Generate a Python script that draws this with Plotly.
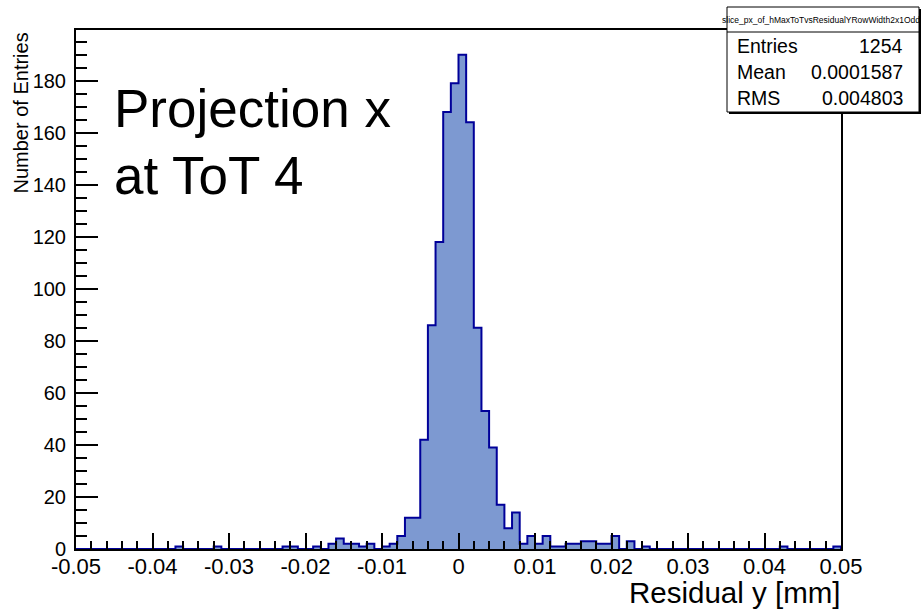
import numpy as np
import plotly.graph_objects as go

# ---------------- data ----------------
bin_low = -0.05
bin_high = 0.05
n_bins = 100
counts = [
    0, 0, 0, 0, 0, 0, 0, 0, 0, 0,
    0, 0, 0, 1, 0, 0, 0, 0, 1, 0,
    0, 0, 0, 0, 0, 0, 0, 1, 1, 0,
    0, 1, 0, 2, 4, 2, 2, 1, 2, 0,
    1, 2, 5, 12, 12, 42, 86, 118, 168, 179,
    190, 164, 85, 53, 39, 17, 8, 14, 2, 5,
    2, 5, 1, 1, 2, 2, 3, 3, 2, 2,
    5, 0, 3, 0, 1, 0, 0, 0, 0, 0,
    0, 0, 0, 0, 0, 0, 0, 0, 0, 0,
    0, 0, 1, 0, 0, 0, 0, 0, 0, 1,
]
x_tick_vals = [-0.05, -0.04, -0.03, -0.02, -0.01, 0, 0.01, 0.02, 0.03, 0.04, 0.05]
x_tick_text = ["-0.05", "-0.04", "-0.03", "-0.02", "-0.01", "0", "0.01", "0.02", "0.03", "0.04", "0.05"]
y_tick_vals = [0, 20, 40, 60, 80, 100, 120, 140, 160, 180]
y_tick_text = ["0", "20", "40", "60", "80", "100", "120", "140", "160", "180"]
hist_name = "slice_px_of_hMaxToTvsResidualYRowWidth2x1Odd"
stat_labels = ["Entries", "Mean", "RMS"]
stat_values = ["1254", "0.0001587", "0.004803"]
x_title = "Residual y [mm]"
y_title = "Number of Entries"
label_lines = ["Projection x", "at ToT 4"]

# ---------------- layout geometry ----------------
W, H = 923, 609
L, R, T, B = 76, 82, 30, 60
PW = W - L - R
PH = H - T - B


def px(x):
    return (x - L) / PW


def py(y):
    return (H - B - y) / PH


edges = np.linspace(bin_low, bin_high, n_bins + 1)
xs = list(edges) + [edges[-1]]
ys = list(counts) + [counts[-1], 0]

FONT = "Liberation Sans, Arial, Helvetica, sans-serif"
FILL = "#7d99d1"
LINE = "#000099"

fig = go.Figure()
fig.add_trace(go.Scatter(
    x=xs, y=ys, mode="lines", line=dict(shape="hv", color=LINE, width=2),
    fill="tozeroy", fillcolor=FILL, hoverinfo="skip", showlegend=False,
))

ymax = max(counts) * 1.05

fig.update_layout(
    width=W, height=H,
    margin=dict(l=L, r=R, t=T, b=B, pad=0),
    paper_bgcolor="white", plot_bgcolor="white",
    font=dict(family=FONT, color="black"),
    showlegend=False,
    xaxis=dict(
        range=[bin_low, bin_high], showgrid=False, zeroline=False,
        showline=True, linecolor="black", linewidth=2, mirror=True,
        ticks="inside", ticklen=16, tickwidth=1.5, tickcolor="black",
        tickmode="array", tickvals=x_tick_vals, ticktext=x_tick_text,
        tickfont=dict(size=22, family=FONT, color="black"),
        ticklabelstandoff=-3,
        minor=dict(ticks="inside", ticklen=8, tickwidth=1.5, tickcolor="black",
                   tickmode="linear", tick0=bin_low, dtick=0.002, showgrid=False),
    ),
    yaxis=dict(
        range=[0, ymax], showgrid=False, zeroline=False,
        showline=True, linecolor="black", linewidth=2, mirror=True,
        ticks="inside", ticklen=22, tickwidth=1.5, tickcolor="black",
        tickmode="array", tickvals=y_tick_vals, ticktext=y_tick_text,
        tickfont=dict(size=20, family=FONT, color="black"),
        ticklabelstandoff=4,
        minor=dict(ticks="inside", ticklen=11, tickwidth=1.5, tickcolor="black",
                   tickmode="linear", tick0=0, dtick=5, showgrid=False),
    ),
)

shapes = []
# stats box shadow + box
shapes.append(dict(type="rect", xref="paper", yref="paper", layer="above",
                   x0=px(729), x1=px(921), y0=py(114), y1=py(9),
                   fillcolor="black", line=dict(width=0)))
shapes.append(dict(type="rect", xref="paper", yref="paper", layer="above",
                   x0=px(727), x1=px(919), y0=py(112), y1=py(7),
                   fillcolor="white", line=dict(color="black", width=1)))
shapes.append(dict(type="line", xref="paper", yref="paper", layer="above",
                   x0=px(727), x1=px(919), y0=py(32), y1=py(32),
                   line=dict(color="black", width=1)))
fig.update_layout(shapes=shapes)

ann = []
ann.append(dict(text=hist_name, xref="paper", yref="paper", x=px(720), y=py(20),
                xanchor="left", yanchor="middle", showarrow=False,
                font=dict(size=8.5, family=FONT, color="black")))
rows_y = [46, 72, 98]
for lab, val, yy in zip(stat_labels, stat_values, rows_y):
    ann.append(dict(text=lab, xref="paper", yref="paper", x=px(735), y=py(yy),
                    xanchor="left", yanchor="middle", showarrow=False,
                    font=dict(size=19.5, family=FONT, color="black")))
    ann.append(dict(text=val, xref="paper", yref="paper", x=px(905), y=py(yy),
                    xanchor="right", yanchor="middle", showarrow=False,
                    font=dict(size=19.5, family=FONT, color="black")))
ann.append(dict(text=x_title, xref="paper", yref="paper", x=px(842), y=py(592),
                xanchor="right", yanchor="middle", showarrow=False,
                font=dict(size=29.5, family=FONT, color="black")))
ann.append(dict(text=y_title, xref="paper", yref="paper", x=px(20), y=py(31),
                xanchor="center", yanchor="top", textangle=-90, showarrow=False,
                font=dict(size=20, family=FONT, color="black")))
ann.append(dict(text=label_lines[0], xref="paper", yref="paper", x=px(112), y=py(108),
                xanchor="left", yanchor="middle", showarrow=False,
                font=dict(size=53, family=FONT, color="black")))
ann.append(dict(text=label_lines[1], xref="paper", yref="paper", x=px(112), y=py(175),
                xanchor="left", yanchor="middle", showarrow=False,
                font=dict(size=53, family=FONT, color="black")))
fig.update_layout(annotations=ann)

fig.write_html("out.html")
